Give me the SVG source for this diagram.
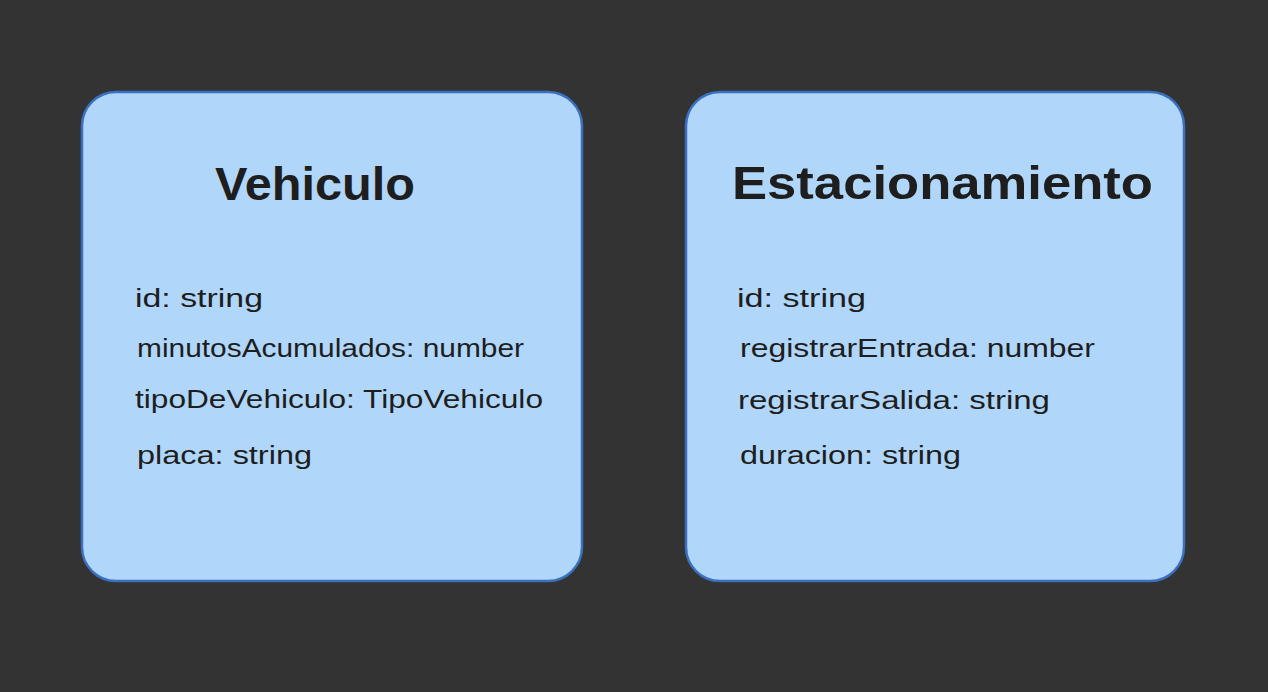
<svg xmlns="http://www.w3.org/2000/svg" width="1268" height="692" viewBox="0 0 1268 692">
<style>
.box{fill:#b0d7fa;stroke:#3b70bf;stroke-width:2.5}
.title{font-family:"Liberation Sans",Arial,sans-serif;font-size:46px;font-weight:bold;fill:#1e1e1e}
.body{font-family:"Liberation Sans",Arial,sans-serif;font-size:25px;fill:#1e1e1e}
</style>
<rect x="0" y="0" width="1268" height="692" fill="#333333"/>
<g id="vehiculo">
<rect class="box" x="82" y="92" width="500" height="489" rx="34" ry="34"/>
<text class="title" x="215" y="200" textLength="200" lengthAdjust="spacingAndGlyphs">Vehiculo</text>
<text class="body" x="135" y="307" textLength="128" lengthAdjust="spacingAndGlyphs">id: string</text>
<text class="body" x="137" y="357" textLength="387" lengthAdjust="spacingAndGlyphs">minutosAcumulados: number</text>
<text class="body" x="135" y="408" textLength="408" lengthAdjust="spacingAndGlyphs">tipoDeVehiculo: TipoVehiculo</text>
<text class="body" x="137" y="464" textLength="175" lengthAdjust="spacingAndGlyphs">placa: string</text>
</g>
<g id="estacionamiento">
<rect class="box" x="686" y="92" width="498" height="489" rx="34" ry="34"/>
<text class="title" x="732" y="199" textLength="421" lengthAdjust="spacingAndGlyphs">Estacionamiento</text>
<text class="body" x="737" y="307" textLength="129" lengthAdjust="spacingAndGlyphs">id: string</text>
<text class="body" x="740" y="357" textLength="355" lengthAdjust="spacingAndGlyphs">registrarEntrada: number</text>
<text class="body" x="738" y="409" textLength="312" lengthAdjust="spacingAndGlyphs">registrarSalida: string</text>
<text class="body" x="740" y="464" textLength="221" lengthAdjust="spacingAndGlyphs">duracion: string</text>
</g>
<g id="connectors"></g>
</svg>
